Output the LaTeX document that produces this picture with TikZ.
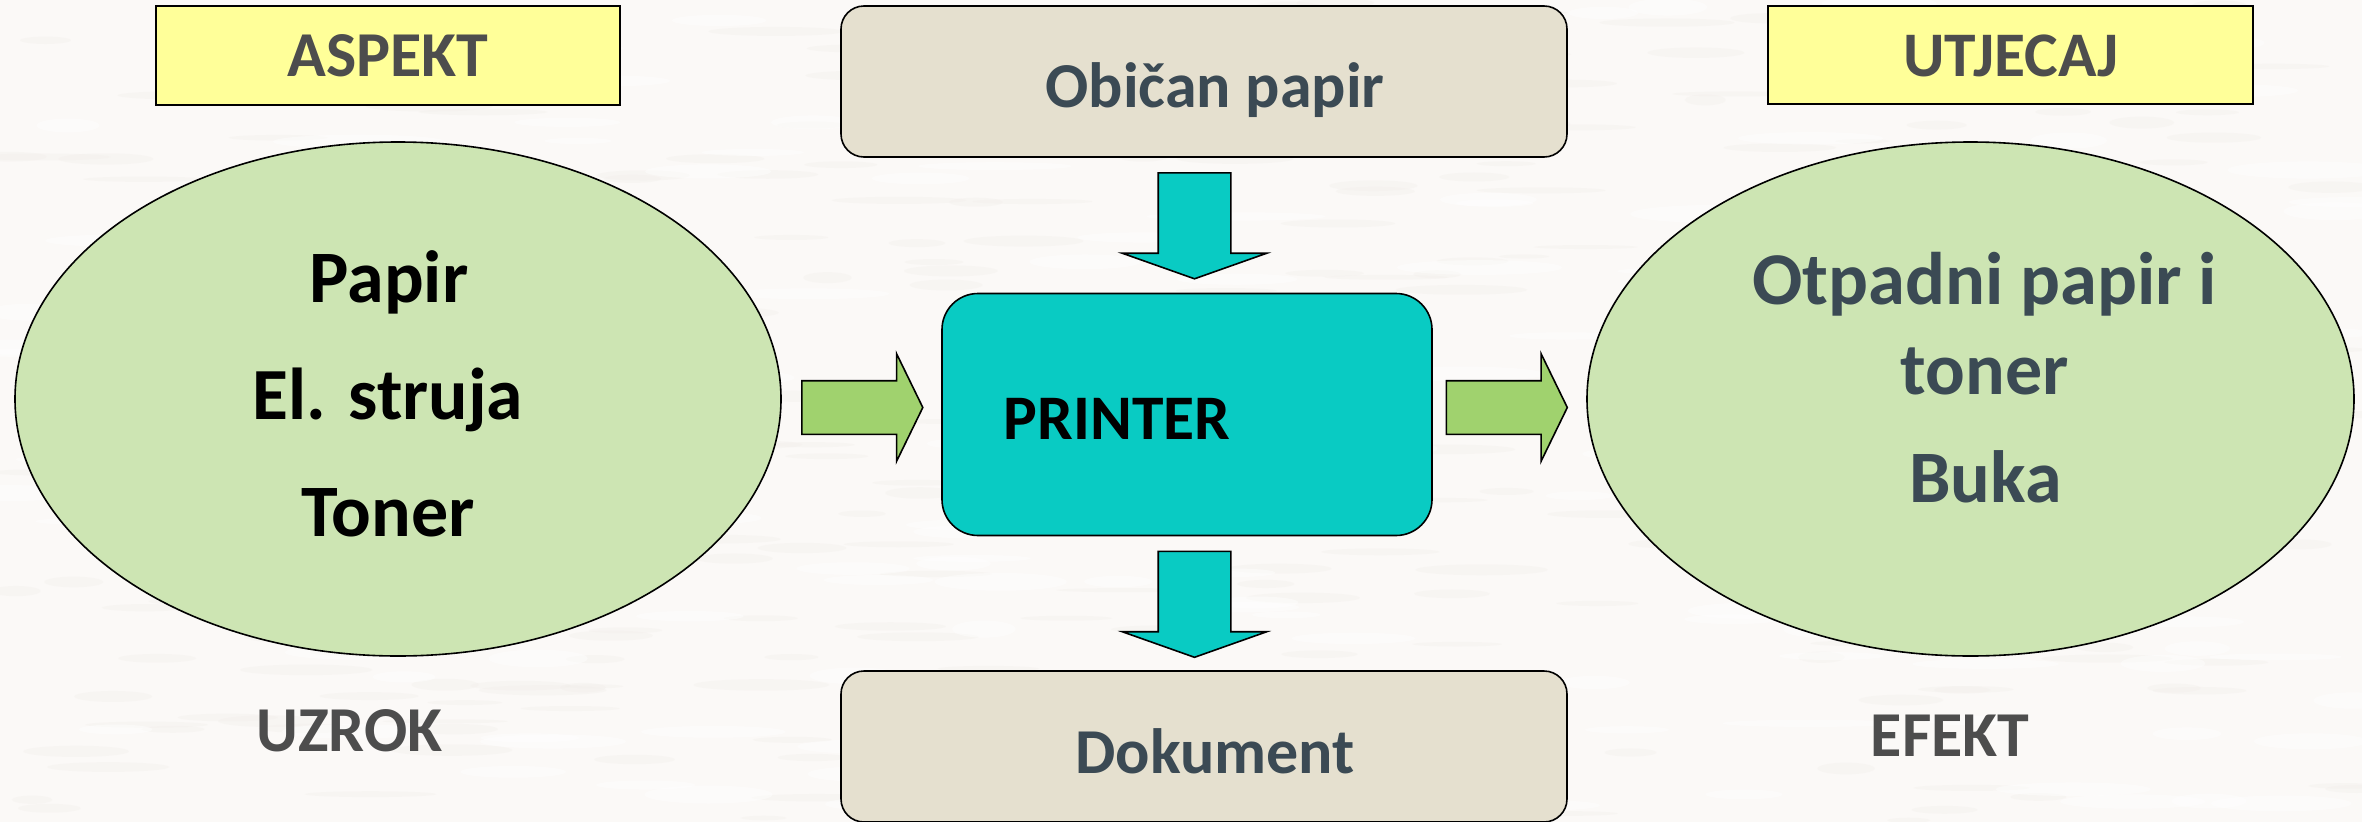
\documentclass[tikz,border=0pt]{standalone}
\usepackage{fontspec}
\setmainfont{Carlito}[BoldFont={Carlito Bold}]
\usetikzlibrary{shapes.geometric,shapes.arrows}
\definecolor{paperbg}{HTML}{FBF9F7}
\definecolor{paperdark}{HTML}{F1EDE9}
\definecolor{labelyellow}{HTML}{FFFF99}
\definecolor{ovalgreen}{HTML}{CDE5B3}
\definecolor{arrowgreen}{HTML}{A0D26E}
\definecolor{tealfill}{HTML}{09CBC3}
\definecolor{beige}{HTML}{E5E0CF}
\definecolor{greytext}{HTML}{4D4D4D}
\definecolor{slatetext}{HTML}{3B4A54}
\tikzset{
  x=1pt,y=-1pt,
  outline/.style={draw=black,line width=1.6pt},
  labelbox/.style={outline,fill=labelyellow,rectangle,inner sep=0pt},
  oval/.style={outline,fill=ovalgreen,ellipse,inner sep=0pt},
  softbox/.style={outline,fill=beige,rectangle,rounded corners=23pt,inner sep=0pt},
  corebox/.style={outline,fill=tealfill,rectangle,rounded corners=36pt,inner sep=0pt},
  rightarrow/.style={outline,fill=arrowgreen,single arrow,anchor=tail,inner sep=0pt,
    single arrow head indent=0pt,single arrow head extend=27pt,single arrow tip angle=128,
    minimum height=121pt},
  downarrow/.style={outline,fill=tealfill,single arrow,anchor=tail,inner sep=0pt,shape border rotate=270,
    single arrow head indent=0pt,single arrow head extend=36pt,single arrow tip angle=141,
    minimum height=106pt},
  txt/.style={anchor=base,inner sep=0pt,font=\fontsize{#1}{#1}\selectfont\bfseries},
}
\newcommand{\rightshaft}{\rule{52pt}{52pt}}
\newcommand{\downshaft}{\rule{71pt}{71pt}}
\begin{document}
\begin{tikzpicture}
\useasboundingbox (0,0) rectangle (2362,822);
\fill[paperbg] (0,0) rectangle (2362,822);
% faint paper grain
\pgfmathsetseed{7}
\foreach \i in {1,...,320}{
  \pgfmathsetmacro{\px}{rnd*2362}
  \pgfmathsetmacro{\py}{rnd*822}
  \pgfmathsetmacro{\rx}{20+rnd*50}
  \pgfmathsetmacro{\ry}{2+rnd*4}
  \fill[paperdark,opacity=0.3] (\px,\py) ellipse [x radius=\rx,y radius=\ry];
}
\foreach \i in {1,...,160}{
  \pgfmathsetmacro{\px}{rnd*2362}
  \pgfmathsetmacro{\py}{rnd*822}
  \pgfmathsetmacro{\rx}{30+rnd*60}
  \pgfmathsetmacro{\ry}{3+rnd*6}
  \fill[white,opacity=0.45] (\px,\py) ellipse [x radius=\rx,y radius=\ry];
}
% boxes
\node[labelbox,minimum width=464pt,minimum height=99pt] (aspect) at (388,55.5) {};
\node[labelbox,minimum width=485pt,minimum height=98pt] (impact) at (2010.5,55) {};
\node[oval,minimum width=766pt,minimum height=514pt] (cause) at (398,399) {};
\node[oval,minimum width=767pt,minimum height=514pt] (effect) at (1970.5,399) {};
\node[softbox,minimum width=726pt,minimum height=151pt] (input) at (1204,81.5) {};
\node[softbox,minimum width=726pt,minimum height=151pt] (output) at (1204,746.5) {};
\node[corebox,minimum width=490pt,minimum height=242pt] (printer) at (1187,414.5) {};
% arrows
\node[rightarrow,text opacity=0] (a1) at (801,407.5) {\textcolor{arrowgreen}{\rightshaft}};
\node[rightarrow,text opacity=0] (a2) at (1445.5,407.5) {\textcolor{arrowgreen}{\rightshaft}};
\node[downarrow,text opacity=0] (a3) at (1194.5,172) {\textcolor{tealfill}{\downshaft}};
\node[downarrow,text opacity=0] (a4) at (1194.5,550.5) {\textcolor{tealfill}{\downshaft}};
% texts
\node[txt=64,text=greytext] (t1) at (388,76) {ASPEKT};
\node[txt=63.5,text=greytext] (t2) at (2011,76) {UTJECAJ};
\node[txt=74,text=black] (t3) at (389,302.5) {Papir};
\node[txt=73.5,text=black] (t4) at (388,419) {El. struja};
\node[txt=74,text=black] (t5) at (388,536) {Toner};
\node[txt=64,text=greytext] (t6) at (349.5,751) {UZROK};
\node[txt=64,text=slatetext] (t7) at (1215,107) {Običan papir};
\node[txt=63.5,text=black] (t8) at (1117,439.5) {PRINTER};
\node[txt=64,text=slatetext] (t9) at (1215,773) {Dokument};
\node[txt=74.5,text=slatetext] (t10) at (1984.5,304) {Otpadni papir i};
\node[txt=74,text=slatetext] (t11) at (1984.5,394.5) {toner};
\node[txt=74,text=slatetext] (t12) at (1985.5,502) {Buka};
\node[txt=64,text=greytext] (t13) at (1950,756) {EFEKT};
\end{tikzpicture}
\end{document}
